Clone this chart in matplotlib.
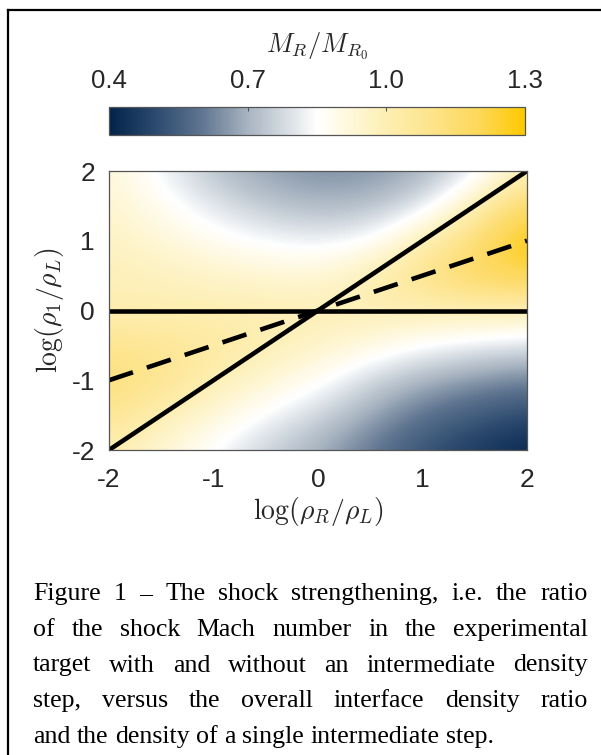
import numpy as np
import matplotlib
matplotlib.use("Agg")
import matplotlib.pyplot as plt
from matplotlib.colors import LinearSegmentedColormap
from matplotlib.lines import Line2D

plt.rcParams['mathtext.fontset'] = 'cm'
plt.rcParams['font.family'] = ['Liberation Sans', 'DejaVu Sans']

# field nodes (rows: log(rho1/rhoL) from top, cols: log(rhoR/rhoL))
log_rR = [-2, -1.5, -1, -0.5, 0, 0.5, 1, 1.5, 2]
log_r1 = [2, 1.5, 1, 0.5, 0, -0.5, -1, -1.5, -2]
mach_ratio = [
    [0.93, 0.83, 0.73, 0.67, 0.64, 0.65, 0.69, 0.81, 1.00],
    [0.95, 0.88, 0.80, 0.74, 0.71, 0.72, 0.80, 1.00, 1.20],
    [0.97, 0.93, 0.88, 0.84, 0.82, 0.85, 1.00, 1.15, 1.30],
    [0.99, 0.98, 0.96, 0.94, 0.93, 1.00, 1.10, 1.19, 1.22],
    [1.00, 1.00, 1.00, 1.00, 1.00, 1.00, 1.00, 1.00, 1.00],
    [1.09, 1.07, 1.05, 1.00, 0.96, 0.91, 0.85, 0.82, 0.79],
    [1.13, 1.09, 1.00, 0.94, 0.87, 0.77, 0.70, 0.65, 0.62],
    [1.09, 1.00, 0.93, 0.84, 0.77, 0.68, 0.59, 0.54, 0.50],
    [1.00, 0.94, 0.84, 0.76, 0.69, 0.60, 0.52, 0.46, 0.41],
]

cbar_ticks = [0.4, 0.7, 1.0, 1.3]
cbar_ticklabels = ['0.4', '0.7', '1.0', '1.3']
ax_ticks = [-2, -1, 0, 1, 2]
ax_ticklabels = ['-2', '-1', '0', '1', '2']

# rho1 = rhoR (solid), rho1 = rhoL (solid), geometric mean step (dashed)
line_x = [-2, 2]
step_eq_R = [-2, 2]
step_eq_L = [0, 0]
step_geo = [-1, 1]

caption_lines = [
    "Figure 1 \u2013 The shock strengthening, i.e. the ratio",
    "of the shock Mach number in the experimental",
    "target with and without an intermediate density",
    "step, versus the overall interface density ratio",
    "and the density of a single intermediate step.",
]

W, H = 601, 755
fig = plt.figure(figsize=(W / 100, H / 100), dpi=100)

cmap = LinearSegmentedColormap.from_list(
    'navy_gold', [(0.0, '#03234b'), (0.111, '#2c4a6e'), (0.222, '#5f7590'),
                  (0.333, '#a8b4c1'), (0.444, '#e0e5ea'), (0.5, '#ffffff'),
                  (0.556, '#fffae6'), (0.667, '#fdefb3'), (0.778, '#fde38a'),
                  (0.889, '#fdd85a'), (1.0, '#ffca00')])

ax = fig.add_axes([109 / W, 1 - 450 / H, 418 / W, 279 / H])
dx = 0.5
im = ax.imshow(np.array(mach_ratio), cmap=cmap, vmin=0.4, vmax=1.3,
               origin='upper', interpolation='bicubic', aspect='auto',
               extent=[min(log_rR) - dx / 2, max(log_rR) + dx / 2,
                       min(log_r1) - dx / 2, max(log_r1) + dx / 2])
ax.plot(line_x, step_eq_R, color='black', lw=3.3, solid_capstyle='butt')
ax.plot(line_x, step_eq_L, color='black', lw=3.3, solid_capstyle='butt')
ax.plot(line_x, step_geo, color='black', lw=3.3, dashes=(5.5, 3.2),
        dash_capstyle='butt')
ax.set_xlim(-2, 2)
ax.set_ylim(-2, 2)
ax.set_xticks(ax_ticks)
ax.set_xticklabels(ax_ticklabels)
ax.set_yticks(ax_ticks)
ax.set_yticklabels(ax_ticklabels)
ax.tick_params(length=0, labelsize=19, labelcolor='#262626')
ax.tick_params(axis='x', pad=13)
ax.tick_params(axis='y', pad=10)
for s in ax.spines.values():
    s.set_color('#555555')
    s.set_linewidth(0.9)
ax.set_xlabel(r'$\log(\rho_R/\rho_L)$', fontsize=20, color='#262626', labelpad=2)
ax.set_ylabel(r'$\log(\rho_1/\rho_L)$', fontsize=20, color='#262626', labelpad=4)

cax = fig.add_axes([109 / W, 1 - 135 / H, 416 / W, 28 / H])
cb = fig.colorbar(im, cax=cax, orientation='horizontal')
cb.set_ticks(cbar_ticks)
cb.set_ticklabels(cbar_ticklabels)
cax.xaxis.set_ticks_position('top')
cax.tick_params(direction='in', length=3, width=0.8, color='#555555',
                labelsize=18.5, labelcolor='#262626', pad=10)
cb.outline.set_edgecolor('#555555')
cb.outline.set_linewidth(0.9)
fig.text(317 / W, 1 - 46 / H, r'$M_R/M_{R_0}$', fontsize=19,
         color='#262626', ha='center', va='center')

# frame around the figure
fig.add_artist(Line2D([7.5 / W, 7.5 / W], [0, 1 - 9.5 / H], color='black',
                      lw=1.6, transform=fig.transFigure))
fig.add_artist(Line2D([7.5 / W, 1], [1 - 9.5 / H, 1 - 9.5 / H], color='black',
                      lw=1.6, transform=fig.transFigure))

# justified caption
fig.canvas.draw()
rend = fig.canvas.get_renderer()
left, right = 33, 588
base0, step = 600, 35.75
cap_kw = dict(fontsize=18.6, family='Liberation Serif', color='black',
              va='baseline', ha='left')
for i, line in enumerate(caption_lines):
    words = line.split()
    texts = [fig.text(0, 0, w, **cap_kw) for w in words]
    widths = [t.get_window_extent(rend).width for t in texts]
    if i < len(caption_lines) - 1:
        gap = (right - left - sum(widths)) / (len(words) - 1)
    else:
        sp = fig.text(0, 0, 'a a', **cap_kw)
        aa = fig.text(0, 0, 'aa', **cap_kw)
        gap = sp.get_window_extent(rend).width - aa.get_window_extent(rend).width
        sp.remove()
        aa.remove()
    x = left
    yb = 1 - (base0 + i * step) / H
    for t, w in zip(texts, widths):
        t.set_position((x / W, yb))
        x += w + gap

fig.savefig('out.png', dpi=100)
